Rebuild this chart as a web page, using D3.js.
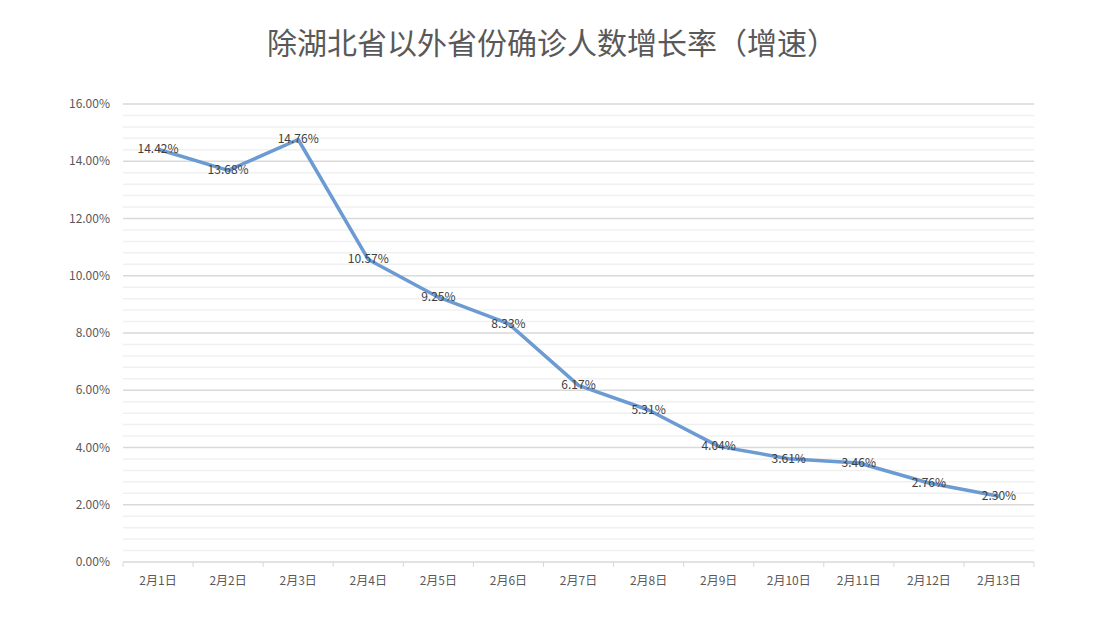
<!DOCTYPE html>
<html><head><meta charset="utf-8">
<script src="https://cdn.jsdelivr.net/npm/d3@7"></script>
<style>body{margin:0;background:#fff}</style></head>
<body><svg id="c" width="1104" height="624"></svg>
<script>
const title = "除湖北省以外省份确诊人数增长率（增速）";
const categories = ["2月1日","2月2日","2月3日","2月4日","2月5日","2月6日","2月7日","2月8日","2月9日","2月10日","2月11日","2月12日","2月13日"];
const values = [14.42,13.68,14.76,10.57,9.25,8.33,6.17,5.31,4.04,3.61,3.46,2.76,2.30];
const yTicks = [0,2,4,6,8,10,12,14,16];

const svg = d3.select("#c");
const L=123,R=1034,T=104,B=562;
const x = d3.scaleBand().domain(categories).range([L,R]);
const y = d3.scaleLinear().domain([0,16]).range([B,T]);
const font = "'Noto Sans CJK SC','Noto Sans',sans-serif";

svg.append("text").attr("x",552).attr("y",54).attr("text-anchor","middle")
  .attr("font-family",font).attr("font-size",30).attr("fill","#595959").text(title);

const minor = d3.range(0,16.001,0.4).filter(v=>Math.abs(v/2-Math.round(v/2))>1e-6);
svg.selectAll(".mn").data(minor).enter().append("line")
  .attr("x1",L).attr("x2",R).attr("y1",d=>y(d)).attr("y2",d=>y(d))
  .attr("stroke","#f0f0f0").attr("stroke-width",1.5);
svg.selectAll(".mj").data(yTicks).enter().append("line")
  .attr("x1",L).attr("x2",R).attr("y1",d=>y(d)).attr("y2",d=>y(d))
  .attr("stroke","#d9d9d9").attr("stroke-width",1.5);

svg.selectAll(".yl").data(yTicks).enter().append("text")
  .attr("x",110).attr("y",d=>y(d)+4).attr("text-anchor","end")
  .attr("font-family",font).attr("font-size",12).attr("fill","#595959")
  .text(d=>d.toFixed(2)+"%");

const ticks = categories.map(c=>x(c)).concat([R]);
svg.selectAll(".xt").data(ticks).enter().append("line")
  .attr("x1",d=>d).attr("x2",d=>d).attr("y1",B).attr("y2",B+5).attr("stroke","#d9d9d9");
svg.selectAll(".xl").data(categories).enter().append("text")
  .attr("x",d=>x(d)+x.bandwidth()/2).attr("y",B+23).attr("text-anchor","middle")
  .attr("font-family",font).attr("font-size",12).attr("fill","#595959").text(d=>d);

const line = d3.line().x((d,i)=>x(categories[i])+x.bandwidth()/2).y(d=>y(d));
svg.append("path").datum(values).attr("d",line).attr("fill","none")
  .attr("stroke","#6b9bd2").attr("stroke-width",3.5).attr("stroke-linejoin","round");

svg.selectAll(".dl").data(values).enter().append("text")
  .attr("x",(d,i)=>x(categories[i])+x.bandwidth()/2).attr("y",d=>y(d)+4)
  .attr("text-anchor","middle").attr("font-family",font).attr("font-size",12)
  .attr("fill","#404040").text(d=>d.toFixed(2)+"%");
</script></body></html>
